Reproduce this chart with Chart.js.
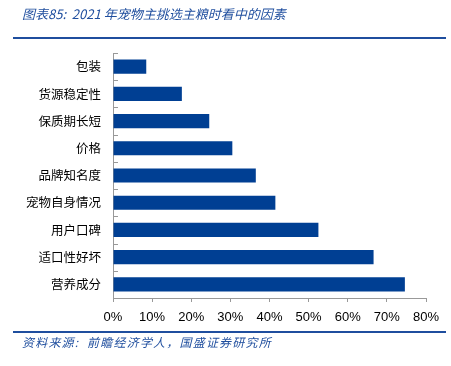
<!DOCTYPE html>
<html>
<head>
<meta charset="utf-8">
<script src="https://cdn.jsdelivr.net/npm/chart.js@4"></script>
<style>
  body { margin: 0; background: #fff; }
  #wrap { position: relative; width: 451px; height: 366px; }
  #factorChart { position: absolute; left: 0; top: 0; }
  .title, .source {
    position: absolute; left: 22px; font-style: italic; color: #1f4e9e;
    font-family: "Noto Sans CJK SC", "Liberation Sans", sans-serif; white-space: nowrap;
  }
  .title { top: 4px; font-size: 13px; }
  .source { top: 333px; font-size: 12px; letter-spacing: 1.2px; }
  .rule { position: absolute; left: 13px; width: 433px; height: 2px; background: #1f4e9e; }
</style>
</head>
<body>
<div id="wrap">
  <canvas id="factorChart" width="451" height="366"></canvas>
  <div class="title">图表85:&nbsp; 2021 年宠物主挑选主粮时看中的因素</div>
  <div class="rule" style="top:37px"></div>
  <div class="rule" style="top:331px"></div>
  <div class="source">资料来源:&nbsp; 前瞻经济学人，国盛证券研究所</div>
</div>
<script>
const factors = ["包装", "货源稳定性", "保质期长短", "价格", "品牌知名度", "宠物自身情况", "用户口碑", "适口性好坏", "营养成分"];
const shares = [8.5, 17.6, 24.6, 30.5, 36.5, 41.5, 52.5, 66.6, 74.6];
const xTicks = [0, 10, 20, 30, 40, 50, 60, 70, 80];

// small tick marks on the inside of the category axis, between bars
const innerTicks = {
  id: "innerTicks",
  afterDraw(chart) {
    const y = chart.scales.y;
    const ctx = chart.ctx;
    const step = (y.bottom - y.top) / factors.length;
    ctx.save();
    ctx.strokeStyle = "#999";
    ctx.lineWidth = 1;
    for (let i = 0; i < factors.length; i++) {
      const py = Math.round(y.top + i * step) + 0.5;
      ctx.beginPath();
      ctx.moveTo(y.right, py);
      ctx.lineTo(y.right + 5, py);
      ctx.stroke();
    }
    ctx.restore();
  }
};

const ctx = document.getElementById("factorChart").getContext("2d");
new Chart(ctx, {
  type: "bar",
  data: {
    labels: factors,
    datasets: [{
      data: shares,
      backgroundColor: "#003f93",
      barPercentage: 0.52,
      categoryPercentage: 1
    }]
  },
  options: {
    indexAxis: "y",
    responsive: false,
    animation: false,
    layout: { padding: { left: 0, right: 25, top: 53, bottom: 40 } },
    plugins: { legend: { display: false }, tooltip: { enabled: false } },
    scales: {
      x: {
        min: 0, max: 80,
        afterBuildTicks: (s) => { s.ticks = xTicks.map((v) => ({ value: v })); },
        afterFit: (s) => { s.height = 28; },
        border: { color: "#999", width: 1 },
        grid: { display: true, drawOnChartArea: false, tickLength: 4, color: "#999" },
        ticks: {
          autoSkip: false, maxRotation: 0,
          padding: 8, color: "#000",
          font: { family: "Liberation Sans", size: 13 },
          callback: (v) => v + "%"
        }
      },
      y: {
        afterFit: (s) => { s.width = 113; },
        border: { color: "#999", width: 1 },
        grid: { display: false },
        ticks: {
          autoSkip: false,
          padding: 4, color: "#000",
          font: { family: "Noto Sans CJK SC", size: 12.5 }
        }
      }
    }
  },
  plugins: [innerTicks]
});
</script>
</body>
</html>
